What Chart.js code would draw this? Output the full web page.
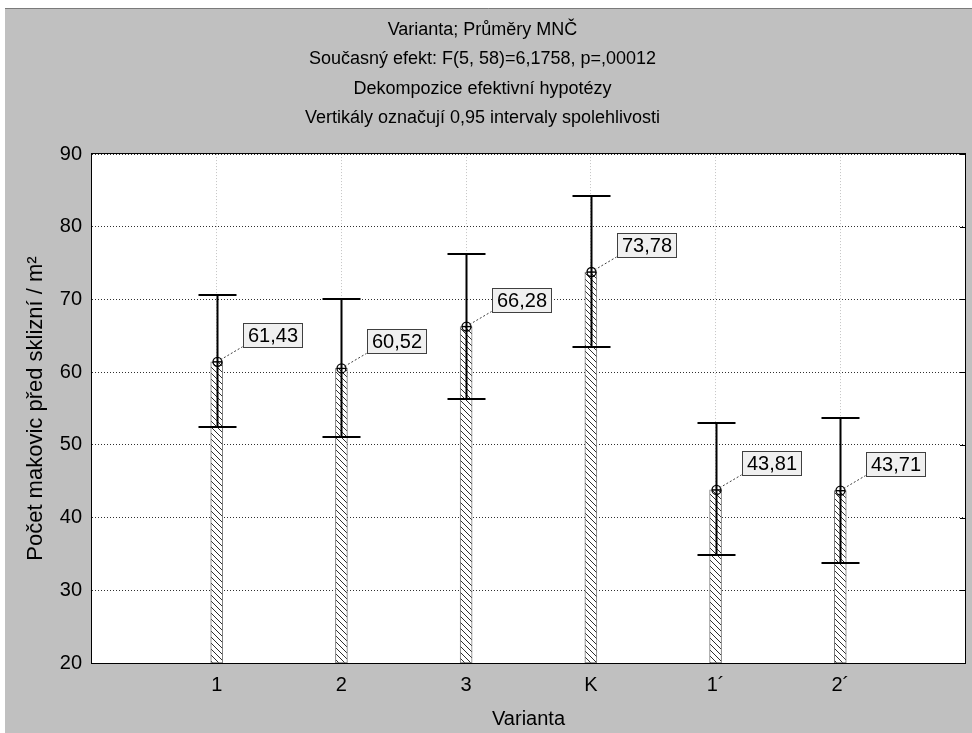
<!DOCTYPE html>
<html>
<head>
<meta charset="utf-8">
<script src="https://cdn.jsdelivr.net/npm/chart.js@4/dist/chart.umd.min.js"></script>
<style>
html,body{margin:0;padding:0;background:#ffffff;}
#wrap{position:relative;width:972px;height:733px;}
</style>
</head>
<body>
<div id="wrap"><canvas id="c" width="972" height="733"></canvas></div>
<script>
// ---- data ----
const categories = ['1', '2', '3', 'K', '1\u00B4', '2\u00B4'];
const positions = [1, 2, 3, 4, 5, 6];
const means = [61.43, 60.52, 66.28, 73.78, 43.81, 43.71];
const lowerCI = [52.4, 51.1, 56.3, 63.4, 34.8, 33.8];
const upperCI = [70.6, 70.0, 76.3, 84.3, 53.0, 53.7];
const meanLabels = ['61,43', '60,52', '66,28', '73,78', '43,81', '43,71'];
const yTicks = [20, 30, 40, 50, 60, 70, 80, 90];
const titleLines = [
  'Varianta; Pr\u016Fm\u011Bry MN\u010C',
  'Sou\u010Dasn\u00FD efekt: F(5, 58)=6,1758, p=,00012',
  'Dekompozice efektivn\u00ED hypot\u00E9zy',
  'Vertik\u00E1ly ozna\u010Duj\u00ED 0,95 intervaly spolehlivosti'
];
const xTitle = 'Varianta';
const yTitle = 'Po\u010Det makovic p\u0159ed sklizn\u00ED / m\u00B2';

// ---- styles ----
const FONT = '"Liberation Sans", Arial, sans-serif';
const canvas = document.getElementById('c');
const ctx0 = canvas.getContext('2d');

function hatchPattern() {
  const pc = document.createElement('canvas');
  pc.width = 6; pc.height = 6;
  const g = pc.getContext('2d');
  g.fillStyle = '#ffffff';
  g.fillRect(0, 0, 6, 6);
  g.strokeStyle = '#303030';
  g.lineWidth = 1;
  g.beginPath();
  g.moveTo(-1, -1); g.lineTo(7, 7);
  g.moveTo(-1, 5); g.lineTo(1, 7);
  g.moveTo(5, -1); g.lineTo(7, 1);
  g.stroke();
  return ctx0.createPattern(pc, 'repeat');
}

const backgroundPlugin = {
  id: 'bgPanel',
  beforeDraw(chart) {
    const ctx = chart.ctx;
    const a = chart.chartArea;
    ctx.save();
    ctx.fillStyle = '#ffffff';
    ctx.fillRect(0, 0, chart.width, chart.height);
    ctx.fillStyle = '#c0c0c0';
    ctx.fillRect(5, 8, chart.width - 5, chart.height - 8);
    ctx.strokeStyle = '#7a7a7a';
    ctx.lineWidth = 1;
    ctx.beginPath();
    ctx.moveTo(5, 8.5); ctx.lineTo(chart.width, 8.5);
    ctx.stroke();
    ctx.fillStyle = '#ffffff';
    ctx.fillRect(a.left, a.top, a.right - a.left, a.bottom - a.top);
    ctx.restore();
  },
  afterDraw(chart) {
    const ctx = chart.ctx;
    const a = chart.chartArea;
    ctx.save();
    ctx.strokeStyle = '#000000';
    ctx.lineWidth = 1;
    ctx.strokeRect(Math.round(a.left) - 0.5, Math.round(a.top) - 0.5,
      Math.round(a.right - a.left) + 1, Math.round(a.bottom - a.top) + 1);
    // small inner tick marks on the right edge
    const ys = chart.scales.y;
    yTicks.forEach(v => {
      const py = Math.round(ys.getPixelForValue(v)) + 0.5;
      ctx.beginPath();
      ctx.moveTo(a.right - 5, py); ctx.lineTo(a.right, py);
      ctx.stroke();
    });
    ctx.restore();
  }
};

const errorPlugin = {
  id: 'errorBars',
  afterDatasetsDraw(chart) {
    const ctx = chart.ctx;
    const xs = chart.scales.x, ys = chart.scales.y;
    ctx.save();
    positions.forEach((p, i) => {
      const px = Math.round(xs.getPixelForValue(p)) + 0.5;
      const yLo = Math.round(ys.getPixelForValue(lowerCI[i]));
      const yHi = Math.round(ys.getPixelForValue(upperCI[i]));
      const yM = ys.getPixelForValue(means[i]);
      ctx.strokeStyle = '#000000';
      ctx.lineWidth = 2;
      ctx.setLineDash([]);
      ctx.beginPath();
      ctx.moveTo(px, yLo); ctx.lineTo(px, yHi);
      ctx.moveTo(px - 19, yLo); ctx.lineTo(px + 19, yLo);
      ctx.moveTo(px - 19, yHi); ctx.lineTo(px + 19, yHi);
      ctx.stroke();
      // mean marker
      ctx.lineWidth = 1.3;
      ctx.beginPath();
      ctx.arc(px, yM, 4.5, 0, Math.PI * 2);
      ctx.stroke();
      ctx.beginPath();
      ctx.moveTo(px - 4.5, yM); ctx.lineTo(px + 4.5, yM);
      ctx.stroke();
      // leader line and label box
      const bx = px + 25, by = yM - 15;
      ctx.strokeStyle = '#404040';
      ctx.lineWidth = 1;
      ctx.setLineDash([2, 2]);
      ctx.beginPath();
      ctx.moveTo(px + 3, yM - 2); ctx.lineTo(bx, by);
      ctx.stroke();
      ctx.setLineDash([]);
      const w = 59, h = 24;
      const rx = Math.round(bx) + 0.5, ry = Math.round(by - h) + 0.5;
      ctx.fillStyle = '#f0f0f0';
      ctx.fillRect(rx, ry, w, h);
      ctx.strokeStyle = '#404040';
      ctx.strokeRect(rx, ry, w, h);
      ctx.fillStyle = '#000000';
      ctx.font = '20px ' + FONT;
      ctx.textAlign = 'center';
      ctx.textBaseline = 'middle';
      ctx.fillText(meanLabels[i], rx + w / 2, ry + h / 2 + 1);
    });
    ctx.restore();
  }
};

const chart = new Chart(canvas, {
  type: 'bar',
  data: {
    datasets: [{
      label: 'mean',
      data: positions.map((p, i) => ({ x: p, y: [20, means[i]] })),
      backgroundColor: hatchPattern(),
      borderColor: '#7a7a7a',
      borderWidth: 1,
      borderSkipped: false,
      barThickness: 12
    }]
  },
  options: {
    responsive: false,
    animation: false,
    devicePixelRatio: 1,
    layout: { padding: { left: 0, right: 7, top: 0, bottom: 0 } },
    plugins: {
      legend: { display: false },
      tooltip: { enabled: false },
      title: {
        display: true,
        text: titleLines,
        color: '#000000',
        font: { family: FONT, size: 18, weight: 'normal', lineHeight: 1.64 },
        padding: { top: 15, bottom: 21 }
      }
    },
    scales: {
      x: {
        type: 'linear',
        min: 0,
        max: 7,
        offset: false,
        afterBuildTicks(scale) { scale.ticks = positions.map(v => ({ value: v })); },
        afterFit(scale) { scale.height = 70; },
        ticks: {
          color: '#000000',
          font: { family: FONT, size: 20 },
          padding: 10,
          maxRotation: 0,
          autoSkip: false,
          callback: v => categories[positions.indexOf(v)]
        },
        grid: { color: '#c4c4c4', lineWidth: 1, drawTicks: false, offset: false },
        border: { display: false, dash: [1, 2] },
        title: {
          display: true,
          text: xTitle,
          color: '#000000',
          font: { family: FONT, size: 20 },
          padding: { top: 0, bottom: 2 }
        }
      },
      y: {
        type: 'linear',
        min: 20,
        max: 90,
        afterBuildTicks(scale) { scale.ticks = yTicks.map(v => ({ value: v })); },
        afterFit(scale) { scale.width = 92; },
        ticks: {
          color: '#000000',
          font: { family: FONT, size: 20 },
          padding: 10
        },
        grid: { color: '#303030', lineWidth: 1, drawTicks: false },
        border: { display: false, dash: [1, 2] },
        title: {
          display: true,
          text: yTitle,
          color: '#000000',
          font: { family: FONT, size: 22 },
          padding: { top: 23, bottom: 0 }
        }
      }
    }
  },
  plugins: [backgroundPlugin, errorPlugin]
});
</script>
</body>
</html>
